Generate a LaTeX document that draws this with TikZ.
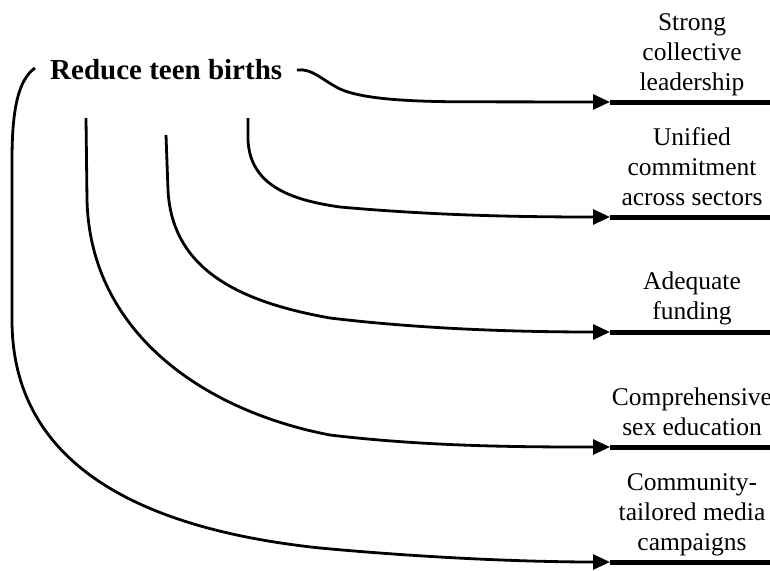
\documentclass[tikz,border=0pt]{standalone}
\usepackage{fontspec}
\setmainfont{Liberation Serif}
\usetikzlibrary{arrows.meta}
\begin{document}
\begin{tikzpicture}[x=1pt,y=-1pt,
  conn/.style={line width=2.8pt,-{Triangle[length=17pt,width=15pt]}},
  bar/.style={line width=5pt},
  lbl/.style={align=center,anchor=base,inner sep=0pt,font=\fontsize{25.5}{30}\selectfont},
  ttl/.style={anchor=base west,inner sep=0pt,font=\fontsize{29}{34}\selectfont\bfseries}]
\useasboundingbox (0,0) rectangle (770,570);

% title
\node[ttl] (title) at (50,79) {Reduce teen births};

% labels (anchored at the baseline of the last line)
\node[lbl] (l5) at (692,90) {Strong\\collective\\leadership};
\node[lbl] (l4) at (692,205) {Unified\\commitment\\across sectors};
\node[lbl] (l3) at (692,319) {Adequate\\funding};
\node[lbl] (l2) at (692,435) {Comprehensive\\sex education};
\node[lbl] (l1) at (692,550) {Community-\\tailored media\\campaigns};

% arrow tips and bar ends
\coordinate (a5) at (610,102);
\coordinate (a4) at (610,217);
\coordinate (a3) at (610,332);
\coordinate (a2) at (610,447);
\coordinate (a1) at (610,562);
\coordinate (e5) at (770,102);
\coordinate (e4) at (770,217);
\coordinate (e3) at (770,332);
\coordinate (e2) at (770,447);
\coordinate (e1) at (770,562);

% curve starts
\coordinate (s5) at (297,70);
\coordinate (s4) at (248,118);
\coordinate (s3) at (166,135);
\coordinate (s2) at (86,118);
\coordinate (s1) at (35,68);

% bars
\foreach \i in {1,...,5} \draw[bar] (a\i) -- (e\i);

% connectors
\draw[conn] (s5) .. controls (312,68) and (322,80) .. (340,89)
  .. controls (360,98) and (400,101.5) .. (460,101.8) -- (a5);
\draw[conn] (s4) -- (248,140) .. controls (250,185) and (290,200) .. (340,207)
  .. controls (440,216) and (530,217) .. (a4);
\draw[conn] (s3) -- (168,190) .. controls (172,270) and (240,302) .. (330,318)
  .. controls (430,330) and (530,332) .. (a3);
\draw[conn] (s2) -- (87,200) .. controls (90,330) and (200,410) .. (330,435)
  .. controls (430,447) and (530,447) .. (a2);
\draw[conn] (s1) .. controls (18,80) and (12,110) .. (12,160) -- (12,320)
  .. controls (12,470) and (150,530) .. (320,548)
  .. controls (450,560) and (550,562) .. (a1);
\end{tikzpicture}
\end{document}
